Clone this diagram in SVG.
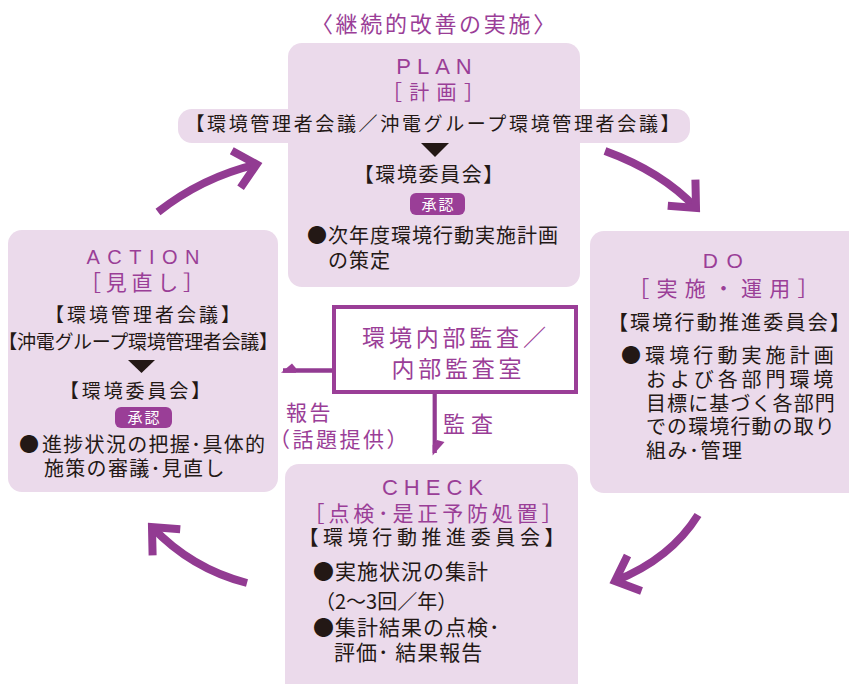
<svg xmlns="http://www.w3.org/2000/svg" width="849" height="684" viewBox="0 0 849 684">
<defs>
<style>
.box{fill:#ebdaeb}
.jp{font-family:"Noto Sans CJK JP","Noto Sans",sans-serif}
.en{font-family:"Liberation Sans",Arial,sans-serif}
.pu{fill:#9a3e97}
.bk{fill:#231815}
.wh{fill:#ffffff}
.mid{text-anchor:middle}
.badge{fill:#9a3e97}
.conn{stroke:#923b92;fill:none}
</style>
<marker id="chev" markerUnits="userSpaceOnUse" viewBox="-30 -30 60 60" markerWidth="60" markerHeight="60" refX="0" refY="0" orient="auto" overflow="visible">
<polyline points="-21,-19 0,0 -21,19" fill="none" stroke="#923b92" stroke-width="8" stroke-linejoin="miter" stroke-miterlimit="10"/>
</marker>
</defs>
<rect width="849" height="684" fill="#ffffff"/>

<text id="title" class="jp pu mid" x="434.4" y="31.5" font-size="22" letter-spacing="2.7">〈継続的改善の実施〉</text>

<g id="plan">
<rect class="box" x="288" y="43" width="292" height="244" rx="14"/>
<rect class="box" x="178" y="109" width="512" height="34" rx="14"/>
<text class="en pu mid" x="437" y="74" font-size="22" letter-spacing="6">PLAN</text>
<text class="jp pu mid" x="436.6" y="100" font-size="20" letter-spacing="7.3">［計画］</text>
<text class="jp bk mid" x="433.8" y="131" font-size="19" letter-spacing="2.65">【環境管理者会議／沖電グループ環境管理者会議】</text>
<polygon class="bk" points="421,143 449,143 435,157"/>
<text class="jp bk mid" x="429.3" y="181.5" font-size="20" letter-spacing="1.6">【環境委員会】</text>
<rect class="badge" x="410" y="193" width="55" height="22" rx="6"/>
<text class="jp wh mid" x="438.5" y="209.5" font-size="15" letter-spacing="2">承認</text>
<text class="jp bk" x="307" y="243" font-size="20" letter-spacing="1">●次年度環境行動実施計画</text>
<text class="jp bk" x="328" y="268" font-size="20" letter-spacing="1">の策定</text>
</g>

<g id="action">
<rect class="box" x="8" y="230" width="270" height="262" rx="14"/>
<text class="en pu mid" x="146.75" y="264" font-size="20" letter-spacing="7.5">ACTION</text>
<text class="jp pu mid" x="144.4" y="290" font-size="21" letter-spacing="4.8">［見直し］</text>
<text class="jp bk mid" x="144" y="322" font-size="19" letter-spacing="3">【環境管理者会議】</text>
<text class="jp bk mid" x="138" y="349" font-size="19" letter-spacing="-0.3">【沖電グループ環境管理者会議】</text>
<polygon class="bk" points="128,360 155,360 141.5,373"/>
<text class="jp bk mid" x="136.5" y="398" font-size="19" letter-spacing="2.9">【環境委員会】</text>
<rect class="badge" x="115" y="407" width="57" height="21" rx="6"/>
<text class="jp wh mid" x="144.5" y="423" font-size="15" letter-spacing="2">承認</text>
<text class="jp bk" x="19" y="452" font-size="20">●</text>
<text class="jp bk" x="42" y="452" font-size="20" letter-spacing="1.3">進捗状況の把握･具体的</text>
<text class="jp bk" x="44" y="476" font-size="20" letter-spacing="1.3">施策の審議･見直し</text>
</g>

<g id="do">
<rect class="box" x="590" y="231" width="280" height="262" rx="14"/>
<text class="en pu mid" x="727" y="268" font-size="21" letter-spacing="8.5">DO</text>
<text class="jp pu mid" x="727" y="296" font-size="21" letter-spacing="7.2">［実施・運用］</text>
<text class="jp bk mid" x="730" y="330" font-size="20" letter-spacing="2.2">【環境行動推進委員会】</text>
<text class="jp bk" x="621" y="363" font-size="20" letter-spacing="4.1">●環境行動実施計画</text>
<text class="jp bk" x="646" y="387" font-size="20" letter-spacing="3.9">および各部門環境</text>
<text class="jp bk" x="646" y="410.5" font-size="20" letter-spacing="1.1">目標に基づく各部門</text>
<text class="jp bk" x="646" y="434" font-size="20" letter-spacing="1.1">での環境行動の取り</text>
<text class="jp bk" x="646" y="457.5" font-size="20" letter-spacing="1.5">組み･管理</text>
</g>

<g id="check">
<rect class="box" x="285" y="464" width="293" height="260" rx="14"/>
<text class="en pu mid" x="435.5" y="495" font-size="22" letter-spacing="6">CHECK</text>
<text class="jp pu mid" x="435" y="521" font-size="21" letter-spacing="3.85">［点検･是正予防処置］</text>
<text class="jp bk mid" x="433.8" y="545" font-size="20" letter-spacing="4.6">【環境行動推進委員会】</text>
<text class="jp bk" x="313" y="579" font-size="21" letter-spacing="1">●実施状況の集計</text>
<text class="jp bk" x="315" y="609" font-size="20">（2〜3回／年）</text>
<text class="jp bk" x="313" y="635" font-size="21" letter-spacing="1">●集計結果の点検･</text>
<text class="jp bk" x="334" y="660" font-size="21" letter-spacing="1">評価･ 結果報告</text>
</g>

<g id="audit">
<rect x="334" y="307" width="242" height="85" fill="#ffffff" stroke="#9a3e97" stroke-width="4"/>
<text class="jp pu mid" x="455.9" y="345.5" font-size="23" letter-spacing="3.8">環境内部監査／</text>
<text class="jp pu mid" x="458.4" y="377" font-size="23" letter-spacing="3.8">内部監査室</text>
</g>

<g id="connectors">
<path class="conn" d="M158,212 Q202.4,177.2 256.6,164.3" stroke-width="8" marker-end="url(#chev)"/>
<path class="conn" d="M605,151 Q661.6,171.5 696,208" stroke-width="8" marker-end="url(#chev)"/>
<path class="conn" d="M698,515 Q670.6,558.9 615,581" stroke-width="8" marker-end="url(#chev)"/>
<path class="conn" d="M247,583 Q191.4,568.7 152,527" stroke-width="8" marker-end="url(#chev)"/>
<line class="conn" x1="332" y1="370.5" x2="283" y2="370.5" stroke="#9a3e97" stroke-width="4.5"/>
<polygon fill="#9a3e97" points="281,372.8 292,363.5 296,368.3 296,372.8"/>
<line class="conn" x1="434.7" y1="394" x2="434.7" y2="453" stroke="#9a3e97" stroke-width="4.2"/>
<polygon fill="#9a3e97" points="432.6,455.5 432.6,445 437,440 444.5,442"/>
<text class="jp pu" x="286" y="420" font-size="21" letter-spacing="2.5">報告</text>
<text class="jp pu" x="269" y="446.5" font-size="21" letter-spacing="2.5">（話題提供）</text>
<text class="jp pu" x="443" y="432" font-size="22" letter-spacing="6">監査</text>
</g>
</svg>
